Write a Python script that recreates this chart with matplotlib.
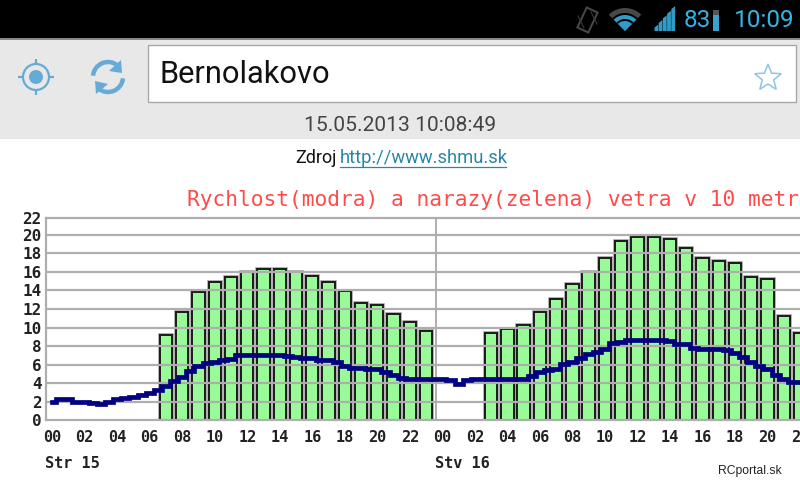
import numpy as np
import matplotlib
matplotlib.use("Agg")
import matplotlib.pyplot as plt
from matplotlib.patches import Rectangle, Circle, Wedge, Polygon, Arc

# --- data -----------------------------------------------------------------
gust_hours_day1 = list(range(7, 24))
gust_day1 = [9.2, 11.7, 13.8, 14.95, 15.4, 16.0, 16.3, 16.3, 16.0, 15.6, 14.95,
             13.9, 12.6, 12.4, 11.5, 10.6, 9.6]
gust_hours_day2 = list(range(27, 47))
gust_day2 = [9.4, 9.8, 10.3, 11.7, 13.05, 14.7, 16.0, 17.5, 19.3, 19.8, 19.8,
             19.55, 18.6, 17.5, 17.2, 17.0, 15.4, 15.2, 11.2, 9.4]
# wind speed, one reading per half hour from 00:00 on the first day
speed = [1.95, 2.3, 2.3, 2.0, 2.0, 1.9, 1.7, 2.0, 2.3, 2.4,
         2.5, 2.7, 2.95, 3.3, 3.7, 4.2, 4.7, 5.3, 5.8, 6.2,
         6.3, 6.5, 6.6, 7.0, 7.05, 7.05, 7.05, 7.05, 7.05, 6.9,
         6.8, 6.7, 6.7, 6.45, 6.45, 6.3, 5.8, 5.6, 5.6, 5.5,
         5.5, 5.15, 4.85, 4.5, 4.45, 4.4, 4.4, 4.4, 4.4, 4.3,
         3.95, 4.3, 4.4, 4.4, 4.4, 4.4, 4.45, 4.45, 4.45, 4.75,
         5.2, 5.4, 5.5, 6.1, 6.3, 6.7, 7.15, 7.4, 7.65, 8.3,
         8.4, 8.65, 8.7, 8.7, 8.7, 8.7, 8.5, 8.2, 8.2, 7.75,
         7.7, 7.7, 7.7, 7.6, 7.3, 6.85, 6.3, 5.8, 5.5, 4.85,
         4.4, 4.15, 4.1]
speed_hours = [i / 2 for i in range(len(speed))]
y_ticks = [0, 2, 4, 6, 8, 10, 12, 14, 16, 18, 20]
y_top = 21.78
midnight_line = 23.6
x_ticks = list(range(0, 47, 2))
x_tick_labels = ["%02d" % (h % 24) for h in x_ticks]
day_labels = [("Str 15", 0), ("Stv 16", 24)]
title = "Rychlost(modra) a narazy(zelena) vetra v 10 metroch"
city = "Bernolakovo"
stamp = "15.05.2013 10:08:49"
link = "http://www.shmu.sk"

BLUE = "#33b5e5"
ICON = "#66abd6"
GRID = "#aeaeae"
MONO = "DejaVu Sans Mono"

fig = plt.figure(figsize=(8, 4.8), dpi=100, facecolor="white")

# --- app chrome, in screen pixels -----------------------------------------
ui = fig.add_axes([0, 0, 1, 1], zorder=0)
ui.set_xlim(0, 800)
ui.set_ylim(480, 0)
ui.axis("off")
ui.add_patch(Rectangle((0, 0), 800, 38, fc="black", ec="none"))
ui.add_patch(Rectangle((0, 38), 800, 2, fc="#8a8a8a", ec="none"))
ui.add_patch(Rectangle((0, 40), 800, 99, fc="#e8e8e8", ec="none"))
ui.add_patch(Rectangle((147.5, 44.5), 648, 57, fc="white", ec="#a8a8a8", lw=1))
ui.text(160, 74.5, city, fontsize=22.2, family="Roboto", color="#111111", va="center")
ui.text(400.5, 125.5, stamp, fontsize=15.1, family="Roboto", color="#444444",
        ha="center", va="center")
ui.text(295, 158, "Zdroj", fontsize=13, family="Roboto", color="#111111", va="center")
ui.text(340, 158, link, fontsize=13.2, family="Roboto", color="#2a86a8", va="center")
ui.plot([340, 506], [166.5, 166.5], color="#2a86a8", lw=0.9)
ui.text(718, 471, "RCportal.sk", fontsize=8.7, family="Liberation Sans",
        color="#222222", va="center")

# locate icon
ui.add_patch(Circle((36, 77), 13, fc="none", ec=ICON, lw=1.6))
ui.add_patch(Circle((36, 77), 7, fc=ICON, ec="none"))
for a, b, c, d in [(18, 77, 24, 77), (48, 77, 54, 77), (36, 59, 36, 65), (36, 89, 36, 95)]:
    ui.plot([a, c], [b, d], color=ICON, lw=1.6, solid_capstyle="butt")
# refresh icon
ui.add_patch(Arc((108, 77), 30, 30, theta1=185, theta2=310, ec=ICON, lw=3.2))
ui.add_patch(Arc((108, 77), 30, 30, theta1=5, theta2=130, ec=ICON, lw=3.2))
ui.add_patch(Polygon([(121, 60), (122, 73), (109, 71)], fc=ICON, ec="none"))
ui.add_patch(Polygon([(96, 94), (95, 81), (108, 84)], fc=ICON, ec="none"))
# star icon
sa = np.deg2rad(np.arange(-90, 270, 36))
sr = np.where(np.arange(10) % 2 == 0, 14, 6)
ui.add_patch(Polygon(np.c_[768 + sr * np.cos(sa), 78 + sr * np.sin(sa)],
                     fc="none", ec="#8cc6e8", lw=1.1))
# status bar
phone = Rectangle((-6, -11), 12, 22, fc="none", ec="#4a4a4a", lw=1.4,
                  transform=matplotlib.transforms.Affine2D().rotate_deg(25).translate(587.5, 20) + ui.transData)
ui.add_patch(phone)
ui.plot([578, 584], [16, 28], color="#3a3a3a", lw=0.8)
ui.plot([591, 597], [12, 24], color="#3a3a3a", lw=0.8)
ui.add_patch(Wedge((625, 31), 23, 225, 315, fc="#484848", ec="none"))
ui.add_patch(Wedge((625, 31), 18, 225, 315, fc="black", ec="none"))
ui.add_patch(Wedge((625, 31), 16, 225, 315, fc="#2f9cc8", ec="none"))
ui.add_patch(Wedge((625, 31), 12, 225, 315, fc="black", ec="none"))
ui.add_patch(Wedge((625, 31), 10, 225, 315, fc="#2f9cc8", ec="none"))
for i in range(5):
    x0 = 656.5 + i * 4.2
    h = 3.5 + i * 4.6
    ui.add_patch(Polygon([(x0 - 2, 31), (x0 + 1.8, 31), (x0 + 1.8, 31 - h - 3), (x0 - 2, 31 - h)],
                         fc="#2f9cc8", ec="none"))
ui.text(684, 20.5, "83", fontsize=17.5, family="Roboto", color=BLUE, va="center")
ui.add_patch(Rectangle((713, 10), 6, 5, fc="#555555", ec="none"))
ui.add_patch(Rectangle((713, 15), 6, 16, fc="#3aa0cc", ec="none"))
ui.text(734, 20.5, "10:09", fontsize=17.5, family="Roboto", color=BLUE, va="center")

# --- the chart ------------------------------------------------------------
ax = fig.add_axes([46 / 800, (480 - 420.2) / 480, 754 / 800, (420.2 - 218.3) / 480], zorder=1)
ax.patch.set_alpha(0)
ax.set_xlim(-0.38, 46)
ax.set_ylim(0, y_top)
for hours, vals in [(gust_hours_day1, gust_day1), (gust_hours_day2, gust_day2)]:
    ax.bar(hours, vals, width=0.76, color="#98fb98", edgecolor="#a0a0a0", linewidth=2.6, zorder=2)
    ax.bar(hours, vals, width=0.76, color="#98fb98", edgecolor="#1a1a1a", linewidth=1.4, zorder=2)
ax.set_yticks(y_ticks + [y_top], [str(v) for v in y_ticks] + ["22"],
              family=MONO, fontsize=11.5, color="#222222", fontweight="bold")
ax.set_xticks(x_ticks, x_tick_labels, family=MONO, fontsize=11, color="#222222", fontweight="bold")
ax.tick_params(length=0)
ax.tick_params(axis="x", pad=7)
ax.tick_params(axis="y", pad=3)
for v in y_ticks[1:]:
    ax.axhline(v, color=GRID, lw=1.6, zorder=3)
ax.axvline(midnight_line, color=GRID, lw=1.4, zorder=3)
for side in ["top", "left", "bottom"]:
    ax.spines[side].set_color(GRID)
    ax.spines[side].set_linewidth(1.6)
    ax.spines[side].set_zorder(3)
ax.spines["right"].set_visible(False)
ax.plot(speed_hours, speed, color="#000080", lw=3.4, drawstyle="steps-mid",
        solid_joinstyle="miter", zorder=4)
for label, h in day_labels:
    ax.annotate(label, xy=(h, 0), xycoords=("data", "axes fraction"), xytext=(-5, -31),
                textcoords="offset points", family=MONO, fontsize=11, color="#222222",
                fontweight="bold", va="center", ha="left", annotation_clip=False)
fig.text(187 / 800, (480 - 200) / 480, title, family=MONO, fontsize=15.3, color="#ff4a4a",
         va="center", ha="left", clip_on=True)

fig.savefig("out.png", dpi=100)
